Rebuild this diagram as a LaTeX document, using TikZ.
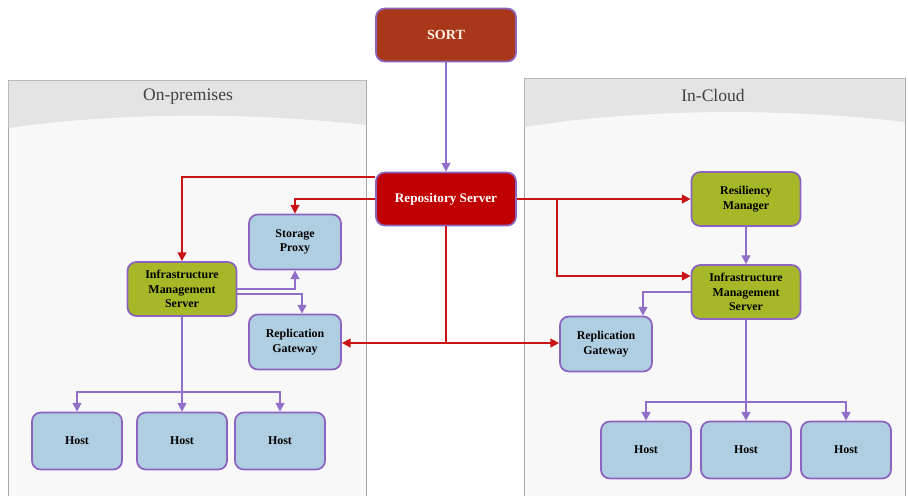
\documentclass[tikz,border=0pt]{standalone}
\usepackage{fontspec}
\setmainfont{Liberation Serif}
\usetikzlibrary{arrows.meta}

\definecolor{sortred}{RGB}{168,56,25}
\definecolor{repored}{RGB}{192,0,0}
\definecolor{olive}{RGB}{166,184,40}
\definecolor{hostblue}{RGB}{176,206,226}
\definecolor{boxline}{RGB}{140,100,190}
\definecolor{flowpurple}{RGB}{145,110,200}
\definecolor{feedred}{RGB}{200,20,20}
\definecolor{panelfill}{RGB}{248,248,248}
\definecolor{panelhead}{RGB}{228,228,228}

\begin{document}
\begin{tikzpicture}[
    x=0.02cm, y=-0.02cm,
    box/.style={rectangle, rounded corners=5pt, draw=boxline, line width=1pt,
      align=center, font=\fontsize{6.8}{8.2}\selectfont\bfseries, inner sep=2pt},
    bluebox/.style={box, fill=hostblue, minimum width=1.84cm, minimum height=1.1cm},
    hostbox/.style={box, fill=hostblue, minimum width=1.8cm, minimum height=1.14cm},
    olivebox/.style={box, fill=olive, minimum width=2.18cm, minimum height=1.08cm},
    redbox/.style={box, text=white, minimum width=2.8cm, minimum height=1.06cm,
      font=\fontsize{7.5}{9}\selectfont\bfseries},
    title/.style={font=\fontsize{10}{12}\selectfont, text=black!75},
    flow/.style={draw=flowpurple, line width=1pt, -{Triangle[length=5pt,width=5pt]}},
    feed/.style={draw=feedred, line width=1pt, -{Triangle[length=5pt,width=5pt]}}
  ]
  \useasboundingbox (0,0) rectangle (908,495);

  % On-premises panel
  \draw[gray!70, fill=panelfill] (8,80) rectangle (366,500);
  \fill[panelhead] (8.5,80.5) -- (365.5,80.5) -- (365.5,125)
    .. controls (250,112) and (120,112) .. (8.5,128) -- cycle;
  \node[title] (onprem) at (188,97) {On-premises};

  % In-Cloud panel
  \draw[gray!70, fill=panelfill] (524,78) rectangle (905,500);
  \fill[panelhead] (524.5,78.5) -- (904.5,78.5) -- (904.5,122)
    .. controls (790,108) and (640,108) .. (524.5,127) -- cycle;
  \node[title] (incloud) at (713,95) {In-Cloud};

  % Top nodes
  \node[redbox, fill=sortred, font=\fontsize{8}{9}\selectfont\bfseries,
    text=white!90!orange] (sort) at (446,35) {SORT};
  \node[redbox, fill=repored] (repo) at (446,199) {Repository Server};

  % On-premises nodes
  \node[bluebox] (spL) at (295,242) {Storage\\Proxy};
  \node[olivebox] (imsL) at (182,289) {Infrastructure\\Management\\Server};
  \node[bluebox] (rgL) at (295,342) {Replication\\Gateway};
  \node[hostbox] (hL1) at (77,441) {Host};
  \node[hostbox] (hL2) at (182,441) {Host};
  \node[hostbox] (hL3) at (280,441) {Host};

  % In-Cloud nodes
  \node[olivebox] (rm) at (746,199) {Resiliency\\Manager};
  \node[olivebox] (imsR) at (746,292) {Infrastructure\\Management\\Server};
  \node[bluebox] (rgR) at (606,344) {Replication\\Gateway};
  \node[hostbox] (hR1) at (646,450) {Host};
  \node[hostbox] (hR2) at (746,450) {Host};
  \node[hostbox] (hR3) at (846,450) {Host};

  % Branch points
  \coordinate (rsplit) at (557,199);
  \coordinate (bsplit) at (446,343);
  \coordinate (lsplit) at (182,392);
  \coordinate (csplit) at (746,402);

  % Repository feeds
  \draw[flow] (sort) -- (repo);
  \draw[feed] ([yshift=0.44cm]repo.west) -| (imsL.north);
  \draw[feed] (repo.west) -| (spL.north);
  \draw[feed] (repo.east) -- (rm.west);
  \draw[feed] (rsplit) |- ([yshift=0.32cm]imsR.west);
  \draw[feed] (repo.south) |- (rgL.east |- bsplit);
  \draw[feed] (bsplit) -- (rgR.west |- bsplit);

  % On-premises flows
  \draw[flow] (imsL.east) -| (spL.south);
  \draw[flow] ([yshift=-0.1cm]imsL.east) -| ([xshift=0.14cm]rgL.north);
  \draw[flow] (imsL.south) -- (hL2.north);
  \draw[flow] (lsplit) -| (hL1.north);
  \draw[flow] (lsplit) -| (hL3.north);

  % In-Cloud flows
  \draw[flow] (rm) -- (imsR);
  \draw[flow] (imsR.west) -| ([xshift=0.74cm]rgR.north);
  \draw[flow] (imsR.south) -- (hR2.north);
  \draw[flow] (csplit) -| (hR1.north);
  \draw[flow] (csplit) -| (hR3.north);
\end{tikzpicture}
\end{document}
